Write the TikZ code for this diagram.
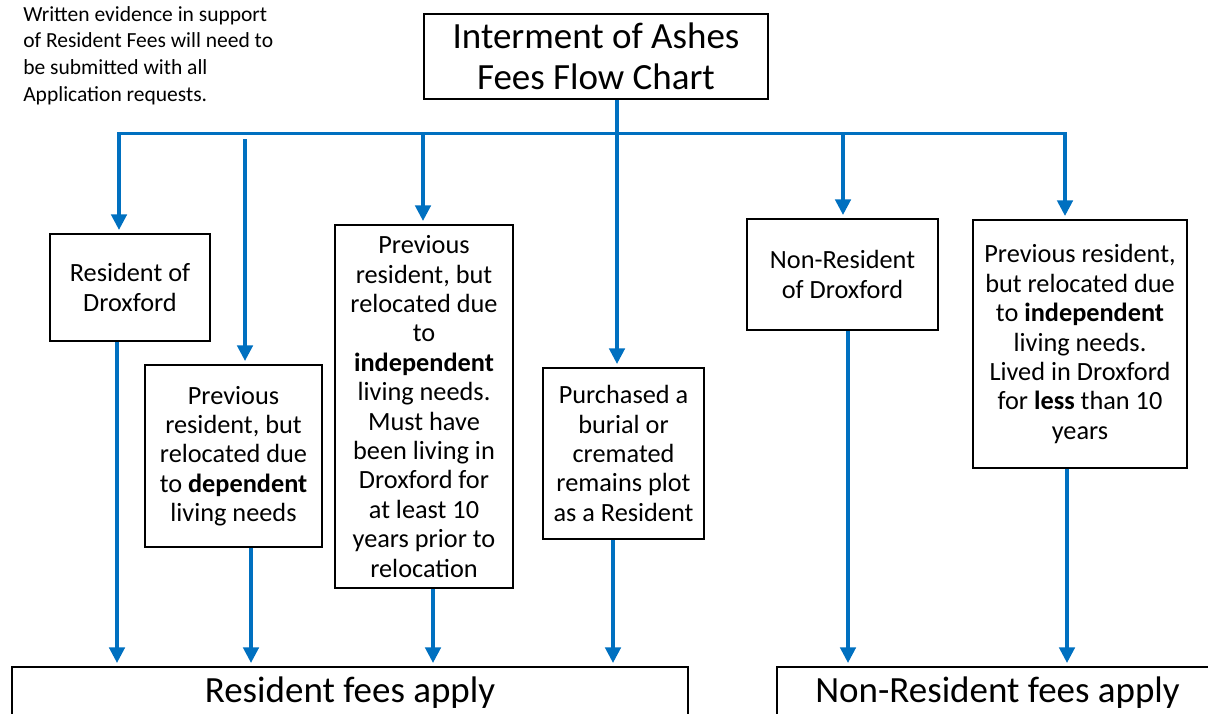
\documentclass[tikz,border=0pt]{standalone}
\usepackage{fontspec}
\setmainfont{Carlito}
\usetikzlibrary{arrows.meta}
\definecolor{flowblue}{RGB}{0,112,192}

\begin{document}
\begin{tikzpicture}[x=0.025cm, y=-0.025cm,
        box/.style={draw, line width=1.8pt, align=center, inner sep=0pt,
            font=\fontsize{18.7}{20.9}\selectfont},
        bus/.style={draw=flowblue, line width=2.2pt},
        flow/.style={bus, -{Triangle[width=11pt,length=11pt]}, shorten >=2pt}]
    \def\px{0.025cm}
    \useasboundingbox (0,0) rectangle (1208,713);

    % note at the top left
    \node[anchor=north west, align=left, inner sep=0pt,
        font=\fontsize{15.3}{19}\selectfont] (note) at (23,6)
        {Written evidence in support\\of Resident Fees will need to\\be submitted with all\\Application requests.};

    % title
    \node[box, minimum width=344*\px, minimum height=85*\px,
        font=\fontsize{26.3}{29.2}\selectfont] (title) at (596,56.5)
        {Interment of Ashes\\Fees Flow Chart};

    % the six cases
    \node[box, minimum width=160*\px, minimum height=107*\px] (res) at (130,287.5)
        {Resident of\\Droxford};
    \node[box, minimum width=177*\px, minimum height=182*\px] (dep) at (233.5,456)
        {Previous\\resident, but\\relocated due\\to \textbf{dependent}\\living needs};
    \node[box, minimum width=178*\px, minimum height=363*\px] (indep) at (424,406.5)
        {Previous\\resident, but\\relocated due\\to\\\textbf{independent}\\living needs.\\Must have\\been living in\\Droxford for\\at least 10\\years prior to\\relocation};
    \node[box, minimum width=161*\px, minimum height=171*\px] (plot) at (623.5,453.5)
        {Purchased a\\burial or\\cremated\\remains plot\\as a Resident};
    \node[box, minimum width=191*\px, minimum height=111*\px] (nonres) at (842.5,274.5)
        {Non-Resident\\of Droxford};
    \node[box, minimum width=214*\px, minimum height=248*\px] (less) at (1080,344)
        {Previous resident,\\but relocated due\\to \textbf{independent}\\living needs.\\Lived in Droxford\\for \textbf{less} than 10\\years};

    % fee boxes at the bottom
    \node[box, minimum width=676*\px, minimum height=52*\px,
        font=\fontsize{26.3}{29}\selectfont] (resfee) at (350,693) {Resident fees apply};
    \node[box, minimum width=441*\px, minimum height=52*\px,
        font=\fontsize{26.3}{29}\selectfont] (nonresfee) at (997.5,693) {Non-Resident fees apply};

    % the bus under the title
    \coordinate (busL) at (117,133.5);
    \coordinate (busR) at (1067,133.5);
    \coordinate (depTop) at (245,139);
    \draw[bus] (busL) -- (busR);
    \draw[flow] (title.south -| 617,0) -- (plot.north -| 617,0);
    \foreach \x/\n in {119/res, 423/indep, 843/nonres, 1065/less}
        \draw[flow] (busL -| \x,0) -- (\n.north -| \x,0);
    \draw[flow] (depTop) -- (dep.north -| depTop);

    % down to the fees
    \foreach \x/\n/\m in {117/res/resfee, 251/dep/resfee, 433/indep/resfee,
            613/plot/resfee, 848/nonres/nonresfee, 1067/less/nonresfee}
        \draw[flow] (\n.south -| \x,0) -- (\m.north -| \x,0);
\end{tikzpicture}
\end{document}
